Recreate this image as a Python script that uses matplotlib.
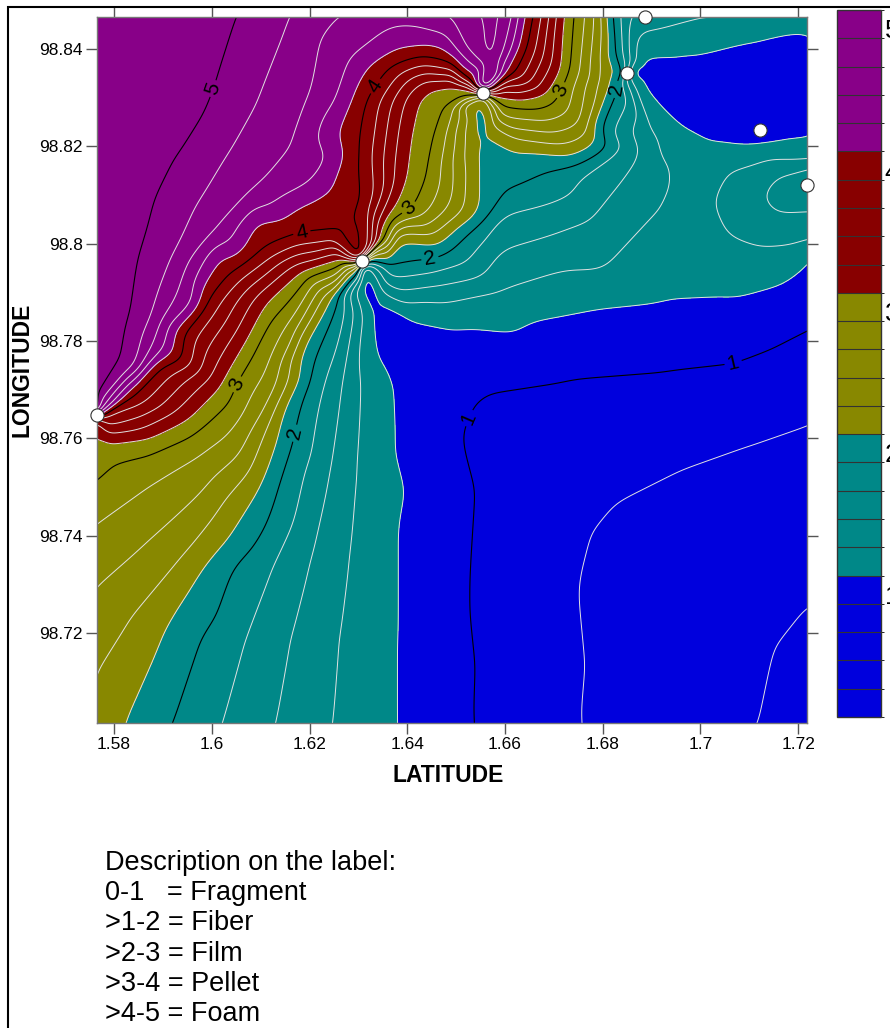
import numpy as np
import matplotlib
matplotlib.use('Agg')
import matplotlib.pyplot as plt
import matplotlib.tri as mtri
from matplotlib.colors import ListedColormap, BoundaryNorm
from matplotlib.cm import ScalarMappable
from matplotlib.patches import Rectangle
from matplotlib.ticker import FuncFormatter

plt.rcParams['font.family'] = ['Liberation Sans', 'DejaVu Sans']

# sampling stations
station_lat = [1.5765, 1.6308, 1.6555, 1.6850, 1.6887, 1.7122, 1.7219]
station_lon = [98.7648, 98.7964, 98.8310, 98.8351, 98.8466, 98.8234, 98.8120]

# surface control points (lat, lon) grouped by value
pts_50 = [(1.6058, 98.8466), (1.6017, 98.8336), (1.5990, 98.8266), (1.5935, 98.8178),
          (1.5888, 98.8082), (1.5853, 98.7973), (1.5841, 98.7849), (1.5823, 98.7751)]
pts_48 = [(1.6160, 98.8466), (1.6093, 98.8295), (1.6031, 98.8184), (1.5970, 98.8082),
          (1.5915, 98.7958), (1.5878, 98.7849), (1.5847, 98.7751)]
pts_46 = [(1.6256, 98.8466), (1.6201, 98.8301), (1.6167, 98.8205), (1.6093, 98.8116),
          (1.6011, 98.8028), (1.5943, 98.7932), (1.5902, 98.7849), (1.5863, 98.7751)]
pts_44 = [(1.6379, 98.8455), (1.6447, 98.8435), (1.6504, 98.8394), (1.6283, 98.8377),
          (1.6256, 98.8295), (1.6242, 98.8178), (1.6201, 98.8122), (1.6107, 98.8069),
          (1.6031, 98.7987), (1.5970, 98.7876), (1.5904, 98.7782)]
pts_42 = [(1.6512, 98.8361), (1.6467, 98.8404), (1.6379, 98.8398), (1.6298, 98.8328),
          (1.6256, 98.8225), (1.6242, 98.8110), (1.6189, 98.8082), (1.6093, 98.8049),
          (1.6025, 98.7987), (1.5976, 98.7905), (1.5925, 98.7823), (1.5874, 98.7751),
          (1.6576, 98.8328), (1.6604, 98.8357), (1.6631, 98.8410), (1.6637, 98.8466)]
pts_40 = [(1.6529, 98.8336), (1.6488, 98.8373), (1.6426, 98.8384), (1.6365, 98.8363),
          (1.6338, 98.8322), (1.6318, 98.8295), (1.6304, 98.8192), (1.6312, 98.8090),
          (1.6242, 98.8024), (1.6170, 98.8016), (1.6099, 98.7983), (1.6037, 98.7938),
          (1.5986, 98.7880), (1.5939, 98.7819), (1.5894, 98.7751), (1.5837, 98.7689),
          (1.6621, 98.8353), (1.6645, 98.8408), (1.6658, 98.8466)]
pts_38 = [(1.6674, 98.8466)]
pts_36 = [(1.6690, 98.8466), (1.6680, 98.8388)]
pts_34 = [(1.6705, 98.8466)]
pts_32 = [(1.6529, 98.8316), (1.6488, 98.8326), (1.6447, 98.8320), (1.6420, 98.8295),
          (1.6406, 98.8228), (1.6396, 98.8141), (1.6365, 98.8063), (1.6263, 98.7968),
          (1.6181, 98.7942), (1.6115, 98.7884), (1.6068, 98.7792), (1.6021, 98.7710),
          (1.5956, 98.7642), (1.5874, 98.7601), (1.5792, 98.7590), (1.5765, 98.7603),
          (1.6584, 98.8301), (1.6631, 98.8295), (1.6686, 98.8308), (1.6713, 98.8349),
          (1.6719, 98.8466)]
pts_30 = [(1.6518, 98.8301), (1.6477, 98.8275), (1.6457, 98.8213), (1.6443, 98.8141),
          (1.6412, 98.8069), (1.6355, 98.8014), (1.6181, 98.7905), (1.6119, 98.7843),
          (1.6087, 98.7782), (1.6046, 98.7714), (1.5997, 98.7638), (1.5956, 98.7603),
          (1.5868, 98.7566), (1.5800, 98.7549), (1.5765, 98.7514),
          (1.6596, 98.8281), (1.6666, 98.8275), (1.6699, 98.8287), (1.6713, 98.8316),
          (1.6733, 98.8363), (1.6740, 98.8466)]
pts_28 = [(1.5765, 98.7426), (1.5874, 98.7504), (1.5976, 98.7566), (1.6058, 98.7638),
          (1.6115, 98.7740), (1.6160, 98.7833), (1.6764, 98.8466)]
pts_26 = [(1.5765, 98.7295), (1.5874, 98.7391), (1.5976, 98.7484), (1.6058, 98.7566),
          (1.6123, 98.7679), (1.6170, 98.7792), (1.6785, 98.8466), (1.6754, 98.8244)]
pts_24 = [(1.5765, 98.7118), (1.5833, 98.7227), (1.5935, 98.7350), (1.6027, 98.7473),
          (1.6103, 98.7597), (1.6160, 98.7720), (1.6797, 98.8466), (1.6795, 98.8377)]
pts_22 = [(1.5823, 98.7015), (1.5874, 98.7130), (1.5949, 98.7282), (1.6031, 98.7391),
          (1.6099, 98.7500), (1.6146, 98.7665), (1.6181, 98.7782), (1.6242, 98.7884),
          (1.6385, 98.8008), (1.6467, 98.7998), (1.6543, 98.8055), (1.6539, 98.8192),
          (1.6525, 98.8285),
          (1.6564, 98.8275), (1.6570, 98.8225), (1.6631, 98.8192), (1.6733, 98.8178),
          (1.6789, 98.8205), (1.6815, 98.8328), (1.6809, 98.8466)]
pts_21 = [(1.6549, 98.8244), (1.6559, 98.8162), (1.6590, 98.8148)]
pts_20 = [(1.5919, 98.7015), (1.5976, 98.7186), (1.6044, 98.7336), (1.6134, 98.7500),
          (1.6165, 98.7597), (1.6201, 98.7720), (1.6252, 98.7864),
          (1.6365, 98.7956), (1.6441, 98.7966), (1.6488, 98.7987), (1.6535, 98.8034),
          (1.6604, 98.8110), (1.6707, 98.8158), (1.6795, 98.8240), (1.6830, 98.8316),
          (1.6819, 98.8466), (1.6826, 98.8398)]
pts_18 = [(1.6021, 98.7015), (1.6068, 98.7186), (1.6130, 98.7350), (1.6191, 98.7535),
          (1.6232, 98.7720), (1.6273, 98.7864),
          (1.6467, 98.7946), (1.6590, 98.8059), (1.6754, 98.8141), (1.6815, 98.8225),
          (1.6836, 98.8466), (1.7188, 98.8116)]
pts_16 = [(1.6130, 98.7015), (1.6160, 98.7186), (1.6201, 98.7350), (1.6242, 98.7535),
          (1.6269, 98.7720),
          (1.6467, 98.7915), (1.6590, 98.7987), (1.6774, 98.8049), (1.6877, 98.8192),
          (1.6852, 98.8466), (1.7129, 98.8100), (1.7159, 98.8137), (1.7159, 98.8063)]
pts_15 = [(1.6887, 98.8466), (1.6754, 98.7998), (1.6897, 98.8141), (1.6918, 98.8466)]
pts_14 = [(1.6246, 98.7015), (1.6259, 98.7186), (1.6279, 98.7350), (1.6293, 98.7535),
          (1.6300, 98.7720),
          (1.6467, 98.7878), (1.6590, 98.7905), (1.6795, 98.7946), (1.6918, 98.8079),
          (1.6897, 98.8234),
          (1.7026, 98.8086), (1.7057, 98.8151), (1.7133, 98.8178), (1.7203, 98.8172),
          (1.7057, 98.8020), (1.7133, 98.7994), (1.7203, 98.8001),
          (1.7055, 98.8466), (1.7000, 98.8466)]
pts_13 = [(1.6959, 98.8429), (1.7081, 98.8449), (1.7143, 98.8466), (1.6979, 98.8090),
          (1.7000, 98.7987), (1.7081, 98.7936), (1.7219, 98.8466)]
pts_12 = [(1.6379, 98.7015), (1.6379, 98.7186), (1.6379, 98.7405), (1.6371, 98.7576),
          (1.6365, 98.7714), (1.6328, 98.7839), (1.6305, 98.7905),
          (1.6345, 98.7878), (1.6406, 98.7849), (1.6508, 98.7829), (1.6658, 98.7843),
          (1.6795, 98.7870), (1.6932, 98.7884), (1.7067, 98.7890), (1.7170, 98.7919),
          (1.7219, 98.7966),
          (1.6883, 98.8384), (1.6985, 98.8390), (1.7122, 98.8425), (1.7219, 98.8445),
          (1.6883, 98.8316), (1.6953, 98.8240), (1.7020, 98.8205), (1.7122, 98.8199),
          (1.7190, 98.8205), (1.7219, 98.8199)]
pts_11 = [(1.6447, 98.7473), (1.6447, 98.7103), (1.6447, 98.7720), (1.6631, 98.7771),
          (1.7000, 98.7816), (1.7204, 98.7888), (1.6938, 98.8336), (1.7122, 98.8234),
          (1.7000, 98.8316), (1.7122, 98.8275), (1.7204, 98.8336), (1.6385, 98.7761)]
pts_105 = [(1.6322, 98.7915), (1.6332, 98.7880), (1.6355, 98.7847), (1.6371, 98.7792)]
pts_10 = [(1.6535, 98.7015), (1.6525, 98.7268), (1.6508, 98.7611), (1.6529, 98.7679),
          (1.6564, 98.7699), (1.6727, 98.7724), (1.6932, 98.7740), (1.7067, 98.7755),
          (1.7137, 98.7782), (1.7219, 98.7823)]
pts_09 = [(1.6631, 98.7514), (1.6631, 98.7165), (1.6877, 98.7617)]
pts_08 = [(1.6754, 98.7015), (1.6748, 98.7303), (1.6774, 98.7405), (1.6830, 98.7473),
          (1.6965, 98.7541), (1.7102, 98.7590), (1.7219, 98.7631)]
pts_07 = [(1.7000, 98.7350), (1.6897, 98.7103), (1.7204, 98.7432), (1.7000, 98.7062)]
pts_06 = [(1.7118, 98.7015), (1.7149, 98.7165), (1.7219, 98.7254)]

# single points with their own values (lat, lon, value)
corner_pts = [(1.5765, 98.8466, 5.15), (1.5765, 98.8254, 5.12), (1.5765, 98.8028, 5.10),
              (1.5765, 98.7823, 5.07), (1.5765, 98.7689, 5.04), (1.5874, 98.8466, 5.12),
              (1.5874, 98.8275, 5.10), (1.5812, 98.7987, 5.08), (1.5765, 98.7015, 2.35),
              (1.7219, 98.7015, 0.52)]
edge_pts = [(1.7219, 98.8162, 1.50), (1.7219, 98.8141, 1.70), (1.7219, 98.8120, 1.90),
            (1.7219, 98.8100, 1.75), (1.7219, 98.8069, 1.60), (1.7219, 98.8018, 1.45)]
peak_pts = [(1.6426, 98.8466, 4.45), (1.6488, 98.8466, 4.60), (1.6529, 98.8466, 4.75),
            (1.6570, 98.8466, 4.85), (1.6600, 98.8466, 4.80), (1.6617, 98.8466, 4.60),
            (1.6627, 98.8466, 4.40), (1.6529, 98.8408, 4.70), (1.6574, 98.8388, 4.88),
            (1.6568, 98.8336, 4.98)]

# values around the stations where the isolines meet (bearing in degrees)
ring_p1_ang = [0, 15, 30, 45, 58, 70, 85, 100, 120, 150, 180]
ring_p1_val = [5.05, 5.0, 4.8, 4.6, 4.4, 4.2, 4.0, 3.8, 3.6, 3.45, 3.4]
ring_p2_ang = [0, 30, 45, 60, 80, 95, 110, 125, 145, 165, 185, 200, 215, 230, 246, 262, 285, 307, 335]
ring_p2_val = [4.05, 3.2, 3.0, 2.2, 2.05, 2.0, 1.7, 1.4, 1.2, 1.05, 1.25, 1.8, 2.1, 2.6, 3.0, 3.2, 3.7, 4.0, 4.15]
ring_p3_ang = [0, 40, 60, 75, 95, 115, 140, 165, 180, 200, 225, 250, 265, 290, 305, 318, 335, 350]
ring_p3_val = [4.95, 4.6, 4.2, 3.8, 3.3, 3.0, 2.6, 2.2, 2.05, 2.15, 2.4, 3.0, 3.2, 3.8, 4.0, 4.2, 4.5, 4.8]
ring_p4_ang = [0, 30, 60, 90, 135, 160, 185, 215, 250, 280, 315, 340]
ring_p4_val = [1.75, 1.35, 1.2, 1.12, 1.3, 1.45, 1.6, 1.8, 2.0, 2.1, 1.95, 1.85]

xticks = [1.58, 1.60, 1.62, 1.64, 1.66, 1.68, 1.70, 1.72]
yticks = [98.72, 98.74, 98.76, 98.78, 98.80, 98.82, 98.84]
levels = np.round(np.arange(0.2, 5.21, 0.2), 1)
band_colors = ['#0000dd', '#008888', '#888800', '#880000', '#880088']

desc_lines = ['Description on the label:', '0-1   = Fragment', '>1-2 = Fiber',
              '>2-3 = Film', '>3-4 = Pellet', '>4-5 = Foam']

# --- assemble the scattered surface ---
lat, lon, val = [], [], []
traced = [(5.0, pts_50), (4.8, pts_48), (4.6, pts_46), (4.4, pts_44), (4.2, pts_42),
          (4.0, pts_40), (3.8, pts_38), (3.6, pts_36), (3.4, pts_34), (3.2, pts_32),
          (3.0, pts_30), (2.8, pts_28), (2.6, pts_26), (2.4, pts_24), (2.2, pts_22),
          (2.1, pts_21), (2.0, pts_20), (1.8, pts_18), (1.6, pts_16), (1.5, pts_15),
          (1.4, pts_14), (1.3, pts_13), (1.2, pts_12), (1.1, pts_11), (1.05, pts_105),
          (1.0, pts_10), (0.9, pts_09), (0.8, pts_08), (0.7, pts_07), (0.6, pts_06)]
for v, pts in traced:
    for a, b in pts:
        lat.append(a)
        lon.append(b)
        val.append(v)
for a, b, v in corner_pts + edge_pts + peak_pts:
    lat.append(a)
    lon.append(b)
    val.append(v)

r = 0.0012
rings = [(0, ring_p1_ang, ring_p1_val), (1, ring_p2_ang, ring_p2_val),
         (2, ring_p3_ang, ring_p3_val), (3, ring_p4_ang, ring_p4_val)]
for i, ang, v in rings:
    a = np.radians(ang)
    lat.extend(station_lat[i] + r * np.sin(a))
    lon.extend(station_lon[i] + r * np.cos(a))
    val.extend(v)

lat = np.array(lat)
lon = np.array(lon)
val = np.array(val)

# piecewise-linear surface on a regular grid
tri = mtri.Triangulation(lat, lon)
lin = mtri.LinearTriInterpolator(tri, val)
gx = np.linspace(1.57651, 1.72179, 420)
gy = np.linspace(98.70151, 98.84659, 420)
GX, GY = np.meshgrid(gx, gy)
Z = np.ma.filled(lin(GX, GY), np.nan)
Z[np.isnan(Z)] = np.nanmean(Z)


def smooth(a, sigma):
    n = int(3 * sigma)
    k = np.exp(-0.5 * (np.arange(-n, n + 1) / sigma) ** 2)
    k /= k.sum()
    p = np.pad(a, n, mode='reflect', reflect_type='odd')
    p = np.apply_along_axis(lambda m: np.convolve(m, k, mode='valid'), 0, p)
    p = np.apply_along_axis(lambda m: np.convolve(m, k, mode='valid'), 1, p)
    return p


# keep it sharp where the isolines meet at a station, softer elsewhere
z_fine = smooth(Z, 2.5)
z_wide = smooth(Z, 5.0)
d = np.full(GX.shape, np.inf)
for i in range(4):
    di = np.hypot((GX - station_lat[i]) / 0.000205, (GY - station_lon[i]) / 0.000205)
    d = np.minimum(d, di)
w = np.exp(-(d / 55.0) ** 2)
Z = w * z_fine + (1 - w) * z_wide

colors = [c for c in band_colors for _ in range(5)]
cmap = ListedColormap(colors)
cmap.set_under(colors[0])
cmap.set_over(colors[-1])
norm = BoundaryNorm(levels, cmap.N)

fig = plt.figure(figsize=(8.9, 10.28), dpi=100)
ax = fig.add_axes([97 / 890, 1 - 723 / 1028, 710 / 890, 706 / 1028])

ax.contourf(GX, GY, Z, levels=levels, cmap=cmap, norm=norm, extend='both')
minor = [l for l in levels if abs(l - round(l)) > 1e-6]
ax.contour(GX, GY, Z, levels=minor, colors='#e2e2e2', linewidths=0.7)
cs = ax.contour(GX, GY, Z, levels=[1, 2, 3, 4, 5], colors='black', linewidths=0.8)
label_pos = [(1.6011, 98.8316), (1.6181, 98.8038), (1.6338, 98.8322),
             (1.6046, 98.7714), (1.6412, 98.8063), (1.6713, 98.8316),
             (1.6165, 98.7611), (1.6447, 98.7966), (1.6830, 98.8316),
             (1.6521, 98.7644), (1.7067, 98.7755)]
ax.clabel(cs, fmt='%d', fontsize=15, manual=label_pos, inline=True, inline_spacing=3)

ax.scatter(station_lat, station_lon, s=90, c='white', edgecolors='#333333',
           linewidths=0.8, zorder=5, clip_on=False)

ax.set_xlim(1.5765, 1.7218)
ax.set_ylim(98.7015, 98.8466)
ax.set_xticks(xticks)
ax.set_yticks(yticks)
fmt = FuncFormatter(lambda v, p: ('%.2f' % v).rstrip('0').rstrip('.'))
ax.xaxis.set_major_formatter(fmt)
ax.yaxis.set_major_formatter(fmt)
ax.tick_params(direction='out', length=8, width=1, color='#555555',
               top=True, right=True, labelsize=12.5, pad=2)
for s in ax.spines.values():
    s.set_color('#777777')
    s.set_linewidth(1)

fig.text(448 / 890, 1 - 775 / 1028, 'LATITUDE', ha='center', va='center',
         fontsize=16.5, fontweight='bold')
fig.text(22 / 890, 1 - 370 / 1028, 'LONGITUDE', ha='center', va='center',
         rotation=90, fontsize=16.5, fontweight='bold')

# colour scale
cax = fig.add_axes([837 / 890, 1 - 717 / 1028, 44 / 890, 707 / 1028])
cb = fig.colorbar(ScalarMappable(norm=norm, cmap=cmap), cax=cax, drawedges=True)
cb.outline.set_edgecolor('#333333')
cb.outline.set_linewidth(1)
cb.dividers.set_color('#333333')
cb.dividers.set_linewidth(0.8)
cb.set_ticks([])
for k in [1, 2, 3, 4, 5]:
    cax.text(1.08, k + 0.05, str(k), transform=cax.get_yaxis_transform(),
             ha='left', va='center', fontsize=19)

for i, line in enumerate(desc_lines):
    fig.text(105 / 890, 1 - (870 + 30.2 * i) / 1028, line, ha='left', va='baseline',
             fontsize=19.5)

fig.patches.append(Rectangle((8 / 890, -0.01), 1.0, 1 - 7 / 1028 + 0.01,
                             transform=fig.transFigure, fill=False,
                             edgecolor='black', linewidth=1.5))

fig.savefig('out.png', dpi=100)
